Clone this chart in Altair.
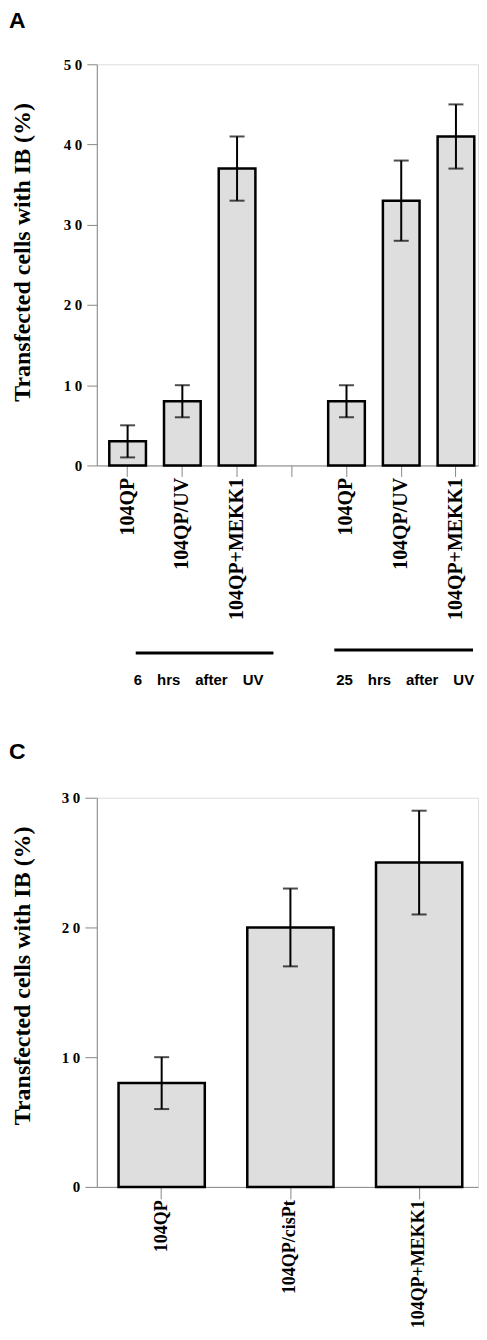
import altair as alt
import pandas as pd

# ---------------- Panel A data ----------------
a_groups = ["6h", "6h", "6h", "gap", "25h", "25h", "25h"]
a_labels = ["104QP", "104QP/UV", "104QP+MEKK1", "", "104QP", "104QP/UV", "104QP+MEKK1"]
a_values = [3, 8, 37, None, 8, 33, 41]
a_err_lo = [1, 6, 33, None, 6, 28, 37]
a_err_hi = [5, 10, 41, None, 10, 38, 45]
a_ticks = [0, 10, 20, 30, 40, 50]
a_group_text = ["6\u2003hrs\u2003after\u2003UV", "25\u2003hrs\u2003after\u2003UV"]

# ---------------- Panel C data ----------------
c_labels = ["104QP", "104QP/cisPt", "104QP+MEKK1"]
c_values = [8, 20, 25]
c_err_lo = [6, 17, 21]
c_err_hi = [10, 23, 29]
c_ticks = [0, 10, 20, 30]

y_title = "Transfected cells with IB (%)"

SERIF = "Liberation Serif"
SANS = "Liberation Sans"
FILL = "#dedede"

a_keys = [f"{g}|{l}" for g, l in zip(a_groups, a_labels)]
df_a = pd.DataFrame({"key": a_keys, "value": a_values, "lo": a_err_lo, "hi": a_err_hi}).dropna()
c_keys = [f"c|{l}" for l in c_labels]
df_c = pd.DataFrame({"key": c_keys, "value": c_values, "lo": c_err_lo, "hi": c_err_hi})

label_expr_x = "split(datum.label, '|')[1]"
label_expr_y = "datum.value == 0 ? '0' : replace(datum.label, '0', ' 0')"


def panel(df, keys, ticks, ymax, width, height, xlab_size, x_tick, y_tick,
          title_x, title_y, letter, letter_y, pad_outer, align):
    x = alt.X(
        "key:N",
        sort=keys,
        scale=alt.Scale(domain=keys, paddingInner=0.33, paddingOuter=pad_outer, align=align),
        axis=alt.Axis(
            title=None,
            labelExpr=label_expr_x,
            labelAngle=270,
            labelAlign="right",
            labelBaseline="middle",
            labelFont=SERIF,
            labelFontWeight="bold",
            labelFontSize=xlab_size,
            labelPadding=1,
            tickSize=x_tick,
            labelOverlap=False,
        ),
    )
    y = alt.Y(
        "value:Q",
        scale=alt.Scale(domain=[0, ymax], nice=False),
        axis=alt.Axis(
            values=ticks,
            grid=False,
            tickSize=y_tick,
            labelPadding=5,
            labelExpr=label_expr_y,
            labelFont=SERIF,
            labelFontWeight="bold",
            labelFontSize=15,
            title=y_title,
            titleFont=SERIF,
            titleFontWeight="bold",
            titleFontSize=24,
            titleX=title_x,
            titleY=title_y,
            titleAlign="center",
            titleBaseline="middle",
        ),
    )
    bars = alt.Chart(df).mark_bar(fill=FILL, stroke="black", strokeWidth=2.5).encode(x=x, y=y)
    err = alt.Chart(df).mark_rule(color="black", strokeWidth=2).encode(
        x=alt.X("key:N", sort=keys), y=alt.Y("lo:Q"), y2="hi:Q"
    )
    cap_hi = alt.Chart(df).mark_tick(color="black", thickness=2, size=15).encode(
        x=alt.X("key:N", sort=keys), y=alt.Y("hi:Q")
    )
    cap_lo = alt.Chart(df).mark_tick(color="black", thickness=2, size=15).encode(
        x=alt.X("key:N", sort=keys), y=alt.Y("lo:Q")
    )
    let = alt.Chart(pd.DataFrame({"t": [letter]})).mark_text(
        text=letter, font=SANS, fontWeight="bold", fontSize=23, align="left",
        baseline="alphabetic", color="black"
    ).encode(x=alt.value(-88), y=alt.value(letter_y))
    return alt.layer(bars, err, cap_hi, cap_lo, let).properties(width=width, height=height)


panel_a = panel(df_a, a_keys, a_ticks, 50, 382, 402, 20, 11, 10, -74, 188, "A", -36, 0.148, 0.77)

grp_rule1 = alt.Chart(pd.DataFrame({"g": [0]})).mark_rule(color="black", strokeWidth=3).encode(
    x=alt.value(39), x2=alt.value(177), y=alt.value(590)
)
grp_rule2 = alt.Chart(pd.DataFrame({"g": [0]})).mark_rule(color="black", strokeWidth=3).encode(
    x=alt.value(238), x2=alt.value(377), y=alt.value(587)
)
grp_text1 = alt.Chart(pd.DataFrame({"g": [0]})).mark_text(
    text=a_group_text[0], font=SANS, fontWeight="bold", fontSize=15, align="center",
    baseline="alphabetic", color="black"
).encode(x=alt.value(102), y=alt.value(622))
grp_text2 = alt.Chart(pd.DataFrame({"g": [0]})).mark_text(
    text=a_group_text[1], font=SANS, fontWeight="bold", fontSize=15, align="center",
    baseline="alphabetic", color="black"
).encode(x=alt.value(309), y=alt.value(622))

panel_a = alt.layer(panel_a, grp_rule1, grp_rule2, grp_text1, grp_text2)

panel_c = panel(df_c, c_keys, c_ticks, 30, 382, 390, 18, 12, 12, -74, 178, "C", -39, 0.1455, 0.58)

chart = alt.vconcat(panel_a, panel_c, spacing=333, bounds="flush").properties(
    padding={"left": 0, "top": 0, "right": 0, "bottom": 0}
).configure_view(
    stroke="black", strokeWidth=1.5
).configure_axis(
    domainColor="black", domainWidth=2, tickColor="black", tickWidth=2,
    labelColor="black", titleColor="black"
).configure(background="white")

chart.save("out.html", embed_options={"renderer": "svg", "actions": False})
